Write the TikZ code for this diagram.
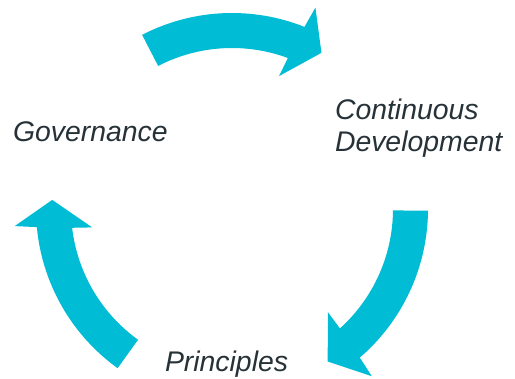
\documentclass[tikz,border=0pt]{standalone}
\usepackage{fontspec}
\setmainfont{Liberation Sans}
\definecolor{arrowcyan}{HTML}{00BCD4}
\definecolor{labelgray}{HTML}{263238}
\tikzset{
  cyclelabel/.style={font=\fontsize{28.5}{32}\selectfont\itshape, text=labelgray,
    inner sep=0pt, outer sep=0pt},
  cyclearrow/.style={fill=arrowcyan, draw=none},
}
% #1 tail angle, #2 head base angle, #3 tip angle (clockwise arrows)
\newcommand\cyclearrowshape[3]{%
  \fill[cyclearrow]
    ({#1}:196bp) arc[start angle={#1}, end angle={#2-0.7}, radius=196bp]
    -- ({#2-1.5}:218bp) -- ({#3}:180bp) -- ({#2+1.5}:141bp) -- ({#2+0.7}:161bp)
    arc[start angle={#2+0.7}, end angle={#1}, radius=161bp] -- cycle;}
\begin{document}
\begin{tikzpicture}[x=1bp, y=1bp]
  \useasboundingbox (0,0) rectangle (515,378);
  \begin{scope}[shift={(232,169)}]
    \cyclearrowshape{117.3}{69}{60.2}
    \cyclearrowshape{-0.5}{-48.6}{-57.9}
    \cyclearrowshape{234.3}{186}{177.1}
  \end{scope}
  \node[cyclelabel, anchor=base west] (gov) at (13,237) {Governance};
  \node[cyclelabel, anchor=base west, align=left] (cd) at (335,227) {Continuous\\Development};
  \node[cyclelabel, anchor=base west] (prin) at (165,7) {Principles};
\end{tikzpicture}
\end{document}
